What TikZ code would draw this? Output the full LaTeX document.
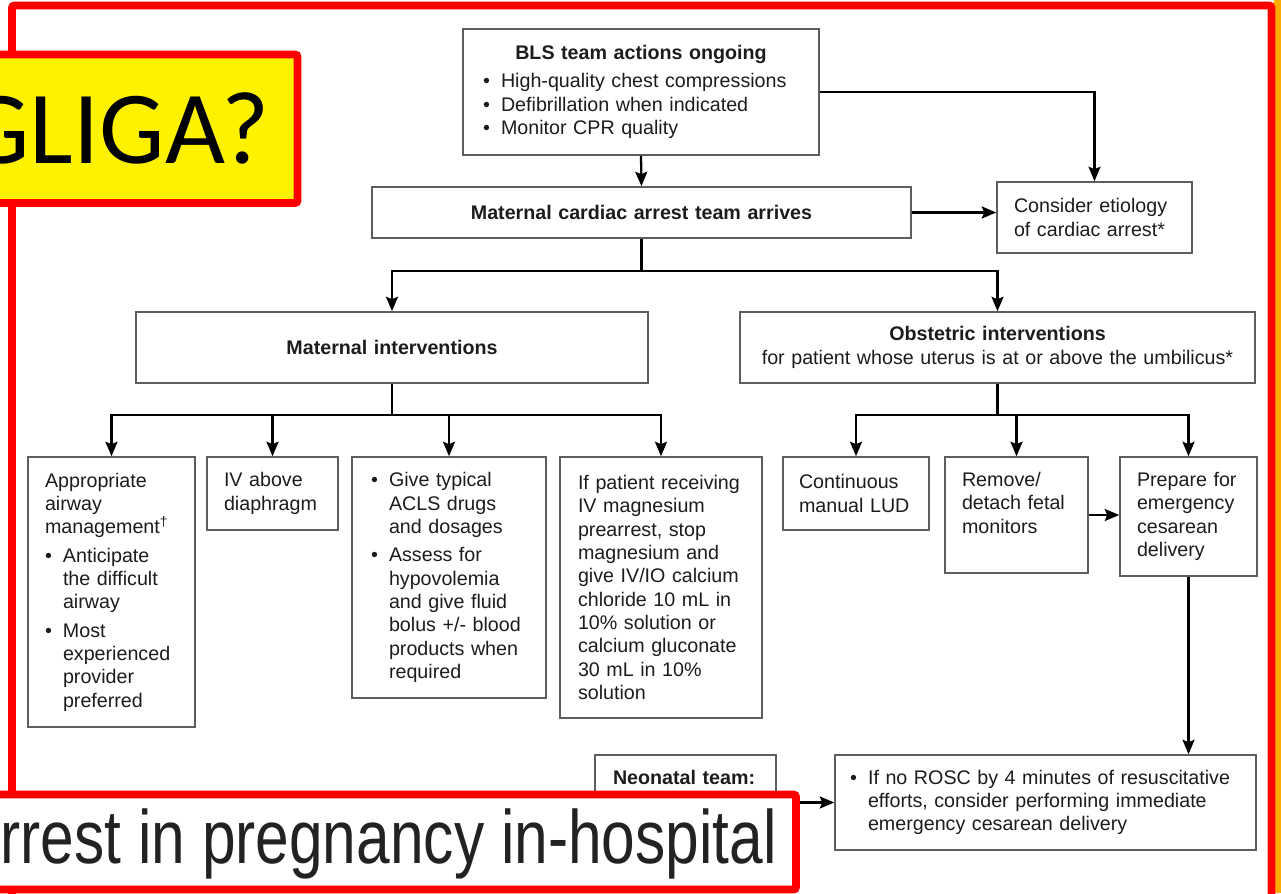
\documentclass[tikz,border=0pt]{standalone}
\usepackage{fontspec}
\usepackage{graphicx}
\setmainfont{Liberation Sans}
\newfontfamily\calibri{Carlito}
\usetikzlibrary{arrows.meta,positioning}
\definecolor{ink}{HTML}{1C1C1C}
\definecolor{boxline}{HTML}{5E5E5E}
\definecolor{framered}{HTML}{FF0000}
\definecolor{glow}{HTML}{FFAA00}
\definecolor{captext}{HTML}{222222}
\newcommand{\boxfont}{\fontsize{11.2}{13.3}\selectfont}
\newcommand{\bul}{\makebox[0.36cm][l]{\textbullet}}
\newcommand{\ind}{\hspace*{0.36cm}}
\tikzset{
  box/.style={draw=boxline, line width=0.9pt, inner sep=0pt, text=ink, align=left, font=\boxfont},
  arr/.style={draw=black, line width=1.3pt, -{Stealth[length=2.9mm,width=2.4mm,inset=0.5mm]}},
  redbox/.style={draw=framered, line width=4.5pt, rounded corners=1.5pt}
}
\begin{document}
\begin{tikzpicture}[x=0.02cm, y=-0.02cm]
  \useasboundingbox (0,0) rectangle (1281,893);
  \clip (0,0) rectangle (1281,893);
  \fill[glow] (1274,0) rectangle (1281,893);
  \draw[redbox] (12,5.5) rectangle (1271.5,950);

  \node[box, minimum width=7.12cm, minimum height=2.52cm, text width=6.32cm] (bls) at (641,92)
    {\makebox[\linewidth][c]{\bfseries BLS team actions ongoing}\\[2.8pt]
     \bul High-quality chest compressions\\
     \bul Defibrillation when indicated\\
     \bul Monitor CPR quality};
  \node[box, minimum width=10.78cm, minimum height=1.02cm, text width=10.5cm, align=center,
    font=\boxfont\bfseries] (team) at (641.5,212.5) {Maternal cardiac arrest team arrives};
  \node[box, minimum width=3.9cm, minimum height=1.42cm, text width=3.22cm] (etiology) at (1094.5,217.5)
    {Consider etiology\\ of cardiac arrest*};
  \node[box, minimum width=10.24cm, minimum height=1.42cm, text width=10cm, align=center,
    font=\boxfont\bfseries] (matint) at (392,347.5) {Maternal interventions};
  \node[box, minimum width=10.3cm, minimum height=1.42cm, text width=10.2cm, align=center] (obsint) at (997.5,347.5)
    {\textbf{Obstetric interventions}\\ for patient whose uterus is at or above the umbilicus*};

  \node[box, minimum width=3.34cm, minimum height=5.4cm, text width=2.66cm] (airway) at (111.5,592)
    {Appropriate\\ airway\\ management\textsuperscript{\textdagger}\\[2.8pt]
     \bul Anticipate\\ \ind the difficult\\ \ind airway\\[2.8pt]
     \bul Most\\ \ind experienced\\ \ind provider\\ \ind preferred};
  \node[box, minimum width=2.62cm, minimum height=1.46cm, text width=1.94cm] (ivabove) at (272.5,493.5)
    {IV above\\ diaphragm};
  \node[box, minimum width=3.88cm, minimum height=4.82cm, text width=3.12cm] (acls) at (449,577.5)
    {\bul Give typical\\ \ind ACLS drugs\\ \ind and dosages\\[2.8pt]
     \bul Assess for\\ \ind hypovolemia\\ \ind and give fluid\\ \ind bolus +/- blood\\
     \ind products when\\ \ind required};
  \node[box, minimum width=4.04cm, minimum height=5.22cm, text width=3.32cm] (magnes) at (661,587.5)
    {If patient receiving\\ IV magnesium\\ prearrest, stop\\ magnesium and\\ give IV/IO calcium\\
     chloride 10 mL in\\ 10\% solution or\\ calcium gluconate\\ 30 mL in 10\%\\ solution};

  \node[box, minimum width=2.92cm, minimum height=1.46cm, text width=2.28cm] (lud) at (856,493.5)
    {Continuous\\ manual LUD};
  \node[box, minimum width=2.86cm, minimum height=2.32cm, text width=2.18cm] (fetal) at (1016.5,515)
    {\parbox[c][1.72cm][t]{2.18cm}{Remove/\\ detach fetal\\ monitors}};
  \node[box, minimum width=2.74cm, minimum height=2.38cm, text width=2.06cm] (cesar) at (1188.5,516.5)
    {Prepare for\\ emergency\\ cesarean\\ delivery};

  \node[box, minimum width=3.62cm, minimum height=1.9cm, text width=2.9cm] (neonatal) at (685.5,802.5)
    {\parbox[c][1.3cm][t]{2.9cm}{\bfseries Neonatal team:}};
  \node[box, minimum width=8.42cm, minimum height=1.9cm, text width=7.82cm] (rosc) at (1045.5,802.5)
    {\bul If no ROSC by 4 minutes of resuscitative\\
     \ind efforts, consider performing immediate\\
     \ind emergency cesarean delivery};

  \draw[arr] (bls.south) -- (team.north);
  \draw[arr] (bls.east) -| (etiology.north);
  \draw[arr] (team.east) -- (team.east -| etiology.west);
  \draw[arr] (team.south) -- ++(0,32) -| (matint.north);
  \draw[arr] (team.south) -- ++(0,32) -| (obsint.north);
  \draw[arr] (matint.south) -- ++(0,31) -| (airway.north);
  \draw[arr] (matint.south) -- ++(0,31) -| (ivabove.north);
  \draw[arr] (matint.south) -- ++(0,31) -| (acls.north);
  \draw[arr] (matint.south) -- ++(0,31) -| (magnes.north);
  \draw[arr] (obsint.south) -- ++(0,31) -| (lud.north);
  \draw[arr] (obsint.south) -- ++(0,31) -| (fetal.north);
  \draw[arr] (obsint.south) -- ++(0,31) -| (cesar.north);
  \draw[arr] (fetal.east) -- (fetal.east -| cesar.west);
  \draw[arr] (cesar.south) -- (cesar.south |- rosc.north);
  \draw[arr] (neonatal.east) -- (rosc.west);

  \draw[redbox, fill=yellow] (-10,54.5) rectangle (297.5,203);
  \node[anchor=base east, inner sep=0pt, font=\calibri\fontsize{59}{60}\selectfont] (gliga) at (270,163) {GLIGA?};
  \draw[redbox, fill=white] (-10,794.5) rectangle (796,889.5);
  \node[anchor=base east, inner sep=0pt, text=captext, font=\fontsize{43}{45}\selectfont] (caption) at (777,863)
    {\scalebox{0.8}[1]{rrest in pregnancy in-hospital}};
\end{tikzpicture}
\end{document}
